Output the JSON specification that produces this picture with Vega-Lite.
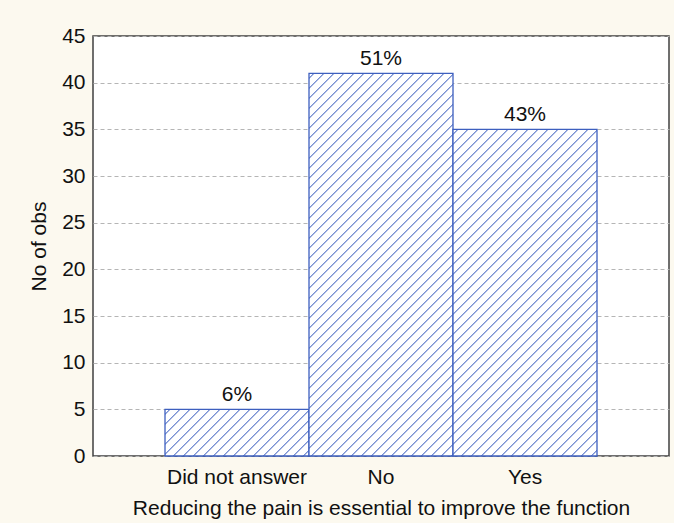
{
"$schema": "https://vega.github.io/schema/vega-lite/v6.json",
"width": 576, "height": 420,
"autosize": {"type": "none"},
"padding": {"left": 93, "top": 36, "right": 5, "bottom": 67},
"background": "#fcf9ef",
"view": {"fill": "#ffffff", "stroke": "#404040", "strokeWidth": 1.5},
"config": {"font": "Liberation Sans", "axis": {"labelFont": "Liberation Sans", "titleFont": "Liberation Sans", "labelFontSize": 21, "titleFontSize": 21, "labelColor": "#111111", "titleColor": "#111111", "titleFontWeight": "normal"}},
"data": {"values": [
{"answer": "Did not answer", "count": 5, "pct": "6%"},
{"answer": "No", "count": 41, "pct": "51%"},
{"answer": "Yes", "count": 35, "pct": "43%"}
]},
"encoding": {
"x": {"field": "answer", "type": "nominal", "scale": {"domain": ["Did not answer", "No", "Yes"], "paddingInner": 0, "paddingOuter": 0.5}, "axis": {"title": "Reducing the pain is essential to improve the function", "labelAngle": 0, "ticks": false, "domain": false, "grid": false, "labelPadding": 10, "titlePadding": 10}},
"y": {"field": "count", "type": "quantitative", "scale": {"domain": [0, 45], "nice": false}, "axis": {"title": "No of obs", "values": [0,5,10,15,20,25,30,35,40,45], "grid": true, "gridDash": [4,3], "gridColor": "#b5b5b5", "gridWidth": 1, "domain": false, "ticks": false, "labelPadding": 8, "titlePadding": 12}}
},
"layer": [
{"transform": [{"filter": "datum.answer === 'Did not answer'"}],
 "mark": {"type": "bar", "stroke": "#3d5fbf", "strokeWidth": 1.3, "fill": {"gradient": "linear", "x1": 0, "y1": 0, "x2": 6.28443, "y2": 2.03662, "stops": [
{"offset":0.0038,"color":"#ffffff"},{"offset":0.005,"color":"#4767c2"},{"offset":0.0062,"color":"#ffffff"},
{"offset":0.0138,"color":"#ffffff"},{"offset":0.015,"color":"#4767c2"},{"offset":0.0162,"color":"#ffffff"},
{"offset":0.0238,"color":"#ffffff"},{"offset":0.025,"color":"#4767c2"},{"offset":0.0262,"color":"#ffffff"},
{"offset":0.0338,"color":"#ffffff"},{"offset":0.035,"color":"#4767c2"},{"offset":0.0362,"color":"#ffffff"},
{"offset":0.0438,"color":"#ffffff"},{"offset":0.045,"color":"#4767c2"},{"offset":0.0462,"color":"#ffffff"},
{"offset":0.0538,"color":"#ffffff"},{"offset":0.055,"color":"#4767c2"},{"offset":0.0562,"color":"#ffffff"},
{"offset":0.0638,"color":"#ffffff"},{"offset":0.065,"color":"#4767c2"},{"offset":0.0662,"color":"#ffffff"},
{"offset":0.0738,"color":"#ffffff"},{"offset":0.075,"color":"#4767c2"},{"offset":0.0762,"color":"#ffffff"},
{"offset":0.0838,"color":"#ffffff"},{"offset":0.085,"color":"#4767c2"},{"offset":0.0862,"color":"#ffffff"},
{"offset":0.0938,"color":"#ffffff"},{"offset":0.095,"color":"#4767c2"},{"offset":0.0962,"color":"#ffffff"},
{"offset":0.1038,"color":"#ffffff"},{"offset":0.105,"color":"#4767c2"},{"offset":0.1062,"color":"#ffffff"},
{"offset":0.1138,"color":"#ffffff"},{"offset":0.115,"color":"#4767c2"},{"offset":0.1162,"color":"#ffffff"},
{"offset":0.1238,"color":"#ffffff"},{"offset":0.125,"color":"#4767c2"},{"offset":0.1262,"color":"#ffffff"},
{"offset":0.1338,"color":"#ffffff"},{"offset":0.135,"color":"#4767c2"},{"offset":0.1362,"color":"#ffffff"},
{"offset":0.1438,"color":"#ffffff"},{"offset":0.145,"color":"#4767c2"},{"offset":0.1462,"color":"#ffffff"},
{"offset":0.1538,"color":"#ffffff"},{"offset":0.155,"color":"#4767c2"},{"offset":0.1562,"color":"#ffffff"},
{"offset":0.1638,"color":"#ffffff"},{"offset":0.165,"color":"#4767c2"},{"offset":0.1662,"color":"#ffffff"},
{"offset":0.1738,"color":"#ffffff"},{"offset":0.175,"color":"#4767c2"},{"offset":0.1762,"color":"#ffffff"},
{"offset":0.1838,"color":"#ffffff"},{"offset":0.185,"color":"#4767c2"},{"offset":0.1862,"color":"#ffffff"},
{"offset":0.1938,"color":"#ffffff"},{"offset":0.195,"color":"#4767c2"},{"offset":0.1962,"color":"#ffffff"}
]}}},
{"transform": [{"filter": "datum.answer === 'No'"}],
 "mark": {"type": "bar", "stroke": "#3d5fbf", "strokeWidth": 1.3, "fill": {"gradient": "linear", "x1": 0, "y1": 0, "x2": 0.861399, "y2": 2.28909, "stops": [
{"offset":0.0038,"color":"#ffffff"},{"offset":0.005,"color":"#4767c2"},{"offset":0.0062,"color":"#ffffff"},
{"offset":0.0138,"color":"#ffffff"},{"offset":0.015,"color":"#4767c2"},{"offset":0.0162,"color":"#ffffff"},
{"offset":0.0238,"color":"#ffffff"},{"offset":0.025,"color":"#4767c2"},{"offset":0.0262,"color":"#ffffff"},
{"offset":0.0338,"color":"#ffffff"},{"offset":0.035,"color":"#4767c2"},{"offset":0.0362,"color":"#ffffff"},
{"offset":0.0438,"color":"#ffffff"},{"offset":0.045,"color":"#4767c2"},{"offset":0.0462,"color":"#ffffff"},
{"offset":0.0538,"color":"#ffffff"},{"offset":0.055,"color":"#4767c2"},{"offset":0.0562,"color":"#ffffff"},
{"offset":0.0638,"color":"#ffffff"},{"offset":0.065,"color":"#4767c2"},{"offset":0.0662,"color":"#ffffff"},
{"offset":0.0738,"color":"#ffffff"},{"offset":0.075,"color":"#4767c2"},{"offset":0.0762,"color":"#ffffff"},
{"offset":0.0838,"color":"#ffffff"},{"offset":0.085,"color":"#4767c2"},{"offset":0.0862,"color":"#ffffff"},
{"offset":0.0938,"color":"#ffffff"},{"offset":0.095,"color":"#4767c2"},{"offset":0.0962,"color":"#ffffff"},
{"offset":0.1038,"color":"#ffffff"},{"offset":0.105,"color":"#4767c2"},{"offset":0.1062,"color":"#ffffff"},
{"offset":0.1138,"color":"#ffffff"},{"offset":0.115,"color":"#4767c2"},{"offset":0.1162,"color":"#ffffff"},
{"offset":0.1238,"color":"#ffffff"},{"offset":0.125,"color":"#4767c2"},{"offset":0.1262,"color":"#ffffff"},
{"offset":0.1338,"color":"#ffffff"},{"offset":0.135,"color":"#4767c2"},{"offset":0.1362,"color":"#ffffff"},
{"offset":0.1438,"color":"#ffffff"},{"offset":0.145,"color":"#4767c2"},{"offset":0.1462,"color":"#ffffff"},
{"offset":0.1538,"color":"#ffffff"},{"offset":0.155,"color":"#4767c2"},{"offset":0.1562,"color":"#ffffff"},
{"offset":0.1638,"color":"#ffffff"},{"offset":0.165,"color":"#4767c2"},{"offset":0.1662,"color":"#ffffff"},
{"offset":0.1738,"color":"#ffffff"},{"offset":0.175,"color":"#4767c2"},{"offset":0.1762,"color":"#ffffff"},
{"offset":0.1838,"color":"#ffffff"},{"offset":0.185,"color":"#4767c2"},{"offset":0.1862,"color":"#ffffff"},
{"offset":0.1938,"color":"#ffffff"},{"offset":0.195,"color":"#4767c2"},{"offset":0.1962,"color":"#ffffff"},
{"offset":0.2038,"color":"#ffffff"},{"offset":0.205,"color":"#4767c2"},{"offset":0.2062,"color":"#ffffff"},
{"offset":0.2138,"color":"#ffffff"},{"offset":0.215,"color":"#4767c2"},{"offset":0.2162,"color":"#ffffff"},
{"offset":0.2238,"color":"#ffffff"},{"offset":0.225,"color":"#4767c2"},{"offset":0.2262,"color":"#ffffff"},
{"offset":0.2338,"color":"#ffffff"},{"offset":0.235,"color":"#4767c2"},{"offset":0.2362,"color":"#ffffff"},
{"offset":0.2438,"color":"#ffffff"},{"offset":0.245,"color":"#4767c2"},{"offset":0.2462,"color":"#ffffff"},
{"offset":0.2538,"color":"#ffffff"},{"offset":0.255,"color":"#4767c2"},{"offset":0.2562,"color":"#ffffff"},
{"offset":0.2638,"color":"#ffffff"},{"offset":0.265,"color":"#4767c2"},{"offset":0.2662,"color":"#ffffff"},
{"offset":0.2738,"color":"#ffffff"},{"offset":0.275,"color":"#4767c2"},{"offset":0.2762,"color":"#ffffff"},
{"offset":0.2838,"color":"#ffffff"},{"offset":0.285,"color":"#4767c2"},{"offset":0.2862,"color":"#ffffff"},
{"offset":0.2938,"color":"#ffffff"},{"offset":0.295,"color":"#4767c2"},{"offset":0.2962,"color":"#ffffff"},
{"offset":0.3038,"color":"#ffffff"},{"offset":0.305,"color":"#4767c2"},{"offset":0.3062,"color":"#ffffff"},
{"offset":0.3138,"color":"#ffffff"},{"offset":0.315,"color":"#4767c2"},{"offset":0.3162,"color":"#ffffff"},
{"offset":0.3238,"color":"#ffffff"},{"offset":0.325,"color":"#4767c2"},{"offset":0.3262,"color":"#ffffff"},
{"offset":0.3338,"color":"#ffffff"},{"offset":0.335,"color":"#4767c2"},{"offset":0.3362,"color":"#ffffff"},
{"offset":0.3438,"color":"#ffffff"},{"offset":0.345,"color":"#4767c2"},{"offset":0.3462,"color":"#ffffff"},
{"offset":0.3538,"color":"#ffffff"},{"offset":0.355,"color":"#4767c2"},{"offset":0.3562,"color":"#ffffff"},
{"offset":0.3638,"color":"#ffffff"},{"offset":0.365,"color":"#4767c2"},{"offset":0.3662,"color":"#ffffff"},
{"offset":0.3738,"color":"#ffffff"},{"offset":0.375,"color":"#4767c2"},{"offset":0.3762,"color":"#ffffff"},
{"offset":0.3838,"color":"#ffffff"},{"offset":0.385,"color":"#4767c2"},{"offset":0.3862,"color":"#ffffff"},
{"offset":0.3938,"color":"#ffffff"},{"offset":0.395,"color":"#4767c2"},{"offset":0.3962,"color":"#ffffff"},
{"offset":0.4038,"color":"#ffffff"},{"offset":0.405,"color":"#4767c2"},{"offset":0.4062,"color":"#ffffff"},
{"offset":0.4138,"color":"#ffffff"},{"offset":0.415,"color":"#4767c2"},{"offset":0.4162,"color":"#ffffff"},
{"offset":0.4238,"color":"#ffffff"},{"offset":0.425,"color":"#4767c2"},{"offset":0.4262,"color":"#ffffff"},
{"offset":0.4338,"color":"#ffffff"},{"offset":0.435,"color":"#4767c2"},{"offset":0.4362,"color":"#ffffff"},
{"offset":0.4438,"color":"#ffffff"},{"offset":0.445,"color":"#4767c2"},{"offset":0.4462,"color":"#ffffff"},
{"offset":0.4538,"color":"#ffffff"},{"offset":0.455,"color":"#4767c2"},{"offset":0.4562,"color":"#ffffff"},
{"offset":0.4638,"color":"#ffffff"},{"offset":0.465,"color":"#4767c2"},{"offset":0.4662,"color":"#ffffff"},
{"offset":0.4738,"color":"#ffffff"},{"offset":0.475,"color":"#4767c2"},{"offset":0.4762,"color":"#ffffff"},
{"offset":0.4838,"color":"#ffffff"},{"offset":0.485,"color":"#4767c2"},{"offset":0.4862,"color":"#ffffff"},
{"offset":0.4938,"color":"#ffffff"},{"offset":0.495,"color":"#4767c2"},{"offset":0.4962,"color":"#ffffff"},
{"offset":0.5038,"color":"#ffffff"},{"offset":0.505,"color":"#4767c2"},{"offset":0.5062,"color":"#ffffff"},
{"offset":0.5138,"color":"#ffffff"},{"offset":0.515,"color":"#4767c2"},{"offset":0.5162,"color":"#ffffff"},
{"offset":0.5238,"color":"#ffffff"},{"offset":0.525,"color":"#4767c2"},{"offset":0.5262,"color":"#ffffff"}
]}}},
{"transform": [{"filter": "datum.answer === 'Yes'"}],
 "mark": {"type": "bar", "stroke": "#3d5fbf", "strokeWidth": 1.3, "fill": {"gradient": "linear", "x1": 0, "y1": 0, "x2": 1.12988, "y2": 2.56316, "stops": [
{"offset":0.0038,"color":"#ffffff"},{"offset":0.005,"color":"#4767c2"},{"offset":0.0062,"color":"#ffffff"},
{"offset":0.0138,"color":"#ffffff"},{"offset":0.015,"color":"#4767c2"},{"offset":0.0162,"color":"#ffffff"},
{"offset":0.0238,"color":"#ffffff"},{"offset":0.025,"color":"#4767c2"},{"offset":0.0262,"color":"#ffffff"},
{"offset":0.0338,"color":"#ffffff"},{"offset":0.035,"color":"#4767c2"},{"offset":0.0362,"color":"#ffffff"},
{"offset":0.0438,"color":"#ffffff"},{"offset":0.045,"color":"#4767c2"},{"offset":0.0462,"color":"#ffffff"},
{"offset":0.0538,"color":"#ffffff"},{"offset":0.055,"color":"#4767c2"},{"offset":0.0562,"color":"#ffffff"},
{"offset":0.0638,"color":"#ffffff"},{"offset":0.065,"color":"#4767c2"},{"offset":0.0662,"color":"#ffffff"},
{"offset":0.0738,"color":"#ffffff"},{"offset":0.075,"color":"#4767c2"},{"offset":0.0762,"color":"#ffffff"},
{"offset":0.0838,"color":"#ffffff"},{"offset":0.085,"color":"#4767c2"},{"offset":0.0862,"color":"#ffffff"},
{"offset":0.0938,"color":"#ffffff"},{"offset":0.095,"color":"#4767c2"},{"offset":0.0962,"color":"#ffffff"},
{"offset":0.1038,"color":"#ffffff"},{"offset":0.105,"color":"#4767c2"},{"offset":0.1062,"color":"#ffffff"},
{"offset":0.1138,"color":"#ffffff"},{"offset":0.115,"color":"#4767c2"},{"offset":0.1162,"color":"#ffffff"},
{"offset":0.1238,"color":"#ffffff"},{"offset":0.125,"color":"#4767c2"},{"offset":0.1262,"color":"#ffffff"},
{"offset":0.1338,"color":"#ffffff"},{"offset":0.135,"color":"#4767c2"},{"offset":0.1362,"color":"#ffffff"},
{"offset":0.1438,"color":"#ffffff"},{"offset":0.145,"color":"#4767c2"},{"offset":0.1462,"color":"#ffffff"},
{"offset":0.1538,"color":"#ffffff"},{"offset":0.155,"color":"#4767c2"},{"offset":0.1562,"color":"#ffffff"},
{"offset":0.1638,"color":"#ffffff"},{"offset":0.165,"color":"#4767c2"},{"offset":0.1662,"color":"#ffffff"},
{"offset":0.1738,"color":"#ffffff"},{"offset":0.175,"color":"#4767c2"},{"offset":0.1762,"color":"#ffffff"},
{"offset":0.1838,"color":"#ffffff"},{"offset":0.185,"color":"#4767c2"},{"offset":0.1862,"color":"#ffffff"},
{"offset":0.1938,"color":"#ffffff"},{"offset":0.195,"color":"#4767c2"},{"offset":0.1962,"color":"#ffffff"},
{"offset":0.2038,"color":"#ffffff"},{"offset":0.205,"color":"#4767c2"},{"offset":0.2062,"color":"#ffffff"},
{"offset":0.2138,"color":"#ffffff"},{"offset":0.215,"color":"#4767c2"},{"offset":0.2162,"color":"#ffffff"},
{"offset":0.2238,"color":"#ffffff"},{"offset":0.225,"color":"#4767c2"},{"offset":0.2262,"color":"#ffffff"},
{"offset":0.2338,"color":"#ffffff"},{"offset":0.235,"color":"#4767c2"},{"offset":0.2362,"color":"#ffffff"},
{"offset":0.2438,"color":"#ffffff"},{"offset":0.245,"color":"#4767c2"},{"offset":0.2462,"color":"#ffffff"},
{"offset":0.2538,"color":"#ffffff"},{"offset":0.255,"color":"#4767c2"},{"offset":0.2562,"color":"#ffffff"},
{"offset":0.2638,"color":"#ffffff"},{"offset":0.265,"color":"#4767c2"},{"offset":0.2662,"color":"#ffffff"},
{"offset":0.2738,"color":"#ffffff"},{"offset":0.275,"color":"#4767c2"},{"offset":0.2762,"color":"#ffffff"},
{"offset":0.2838,"color":"#ffffff"},{"offset":0.285,"color":"#4767c2"},{"offset":0.2862,"color":"#ffffff"},
{"offset":0.2938,"color":"#ffffff"},{"offset":0.295,"color":"#4767c2"},{"offset":0.2962,"color":"#ffffff"},
{"offset":0.3038,"color":"#ffffff"},{"offset":0.305,"color":"#4767c2"},{"offset":0.3062,"color":"#ffffff"},
{"offset":0.3138,"color":"#ffffff"},{"offset":0.315,"color":"#4767c2"},{"offset":0.3162,"color":"#ffffff"},
{"offset":0.3238,"color":"#ffffff"},{"offset":0.325,"color":"#4767c2"},{"offset":0.3262,"color":"#ffffff"},
{"offset":0.3338,"color":"#ffffff"},{"offset":0.335,"color":"#4767c2"},{"offset":0.3362,"color":"#ffffff"},
{"offset":0.3438,"color":"#ffffff"},{"offset":0.345,"color":"#4767c2"},{"offset":0.3462,"color":"#ffffff"},
{"offset":0.3538,"color":"#ffffff"},{"offset":0.355,"color":"#4767c2"},{"offset":0.3562,"color":"#ffffff"},
{"offset":0.3638,"color":"#ffffff"},{"offset":0.365,"color":"#4767c2"},{"offset":0.3662,"color":"#ffffff"},
{"offset":0.3738,"color":"#ffffff"},{"offset":0.375,"color":"#4767c2"},{"offset":0.3762,"color":"#ffffff"},
{"offset":0.3838,"color":"#ffffff"},{"offset":0.385,"color":"#4767c2"},{"offset":0.3862,"color":"#ffffff"},
{"offset":0.3938,"color":"#ffffff"},{"offset":0.395,"color":"#4767c2"},{"offset":0.3962,"color":"#ffffff"},
{"offset":0.4038,"color":"#ffffff"},{"offset":0.405,"color":"#4767c2"},{"offset":0.4062,"color":"#ffffff"},
{"offset":0.4138,"color":"#ffffff"},{"offset":0.415,"color":"#4767c2"},{"offset":0.4162,"color":"#ffffff"},
{"offset":0.4238,"color":"#ffffff"},{"offset":0.425,"color":"#4767c2"},{"offset":0.4262,"color":"#ffffff"},
{"offset":0.4338,"color":"#ffffff"},{"offset":0.435,"color":"#4767c2"},{"offset":0.4362,"color":"#ffffff"},
{"offset":0.4438,"color":"#ffffff"},{"offset":0.445,"color":"#4767c2"},{"offset":0.4462,"color":"#ffffff"},
{"offset":0.4538,"color":"#ffffff"},{"offset":0.455,"color":"#4767c2"},{"offset":0.4562,"color":"#ffffff"},
{"offset":0.4638,"color":"#ffffff"},{"offset":0.465,"color":"#4767c2"},{"offset":0.4662,"color":"#ffffff"}
]}}},
{"mark": {"type": "text", "fontSize": 21, "font": "Liberation Sans", "color": "#111111", "baseline": "alphabetic", "dy": -8},
 "encoding": {"text": {"field": "pct"}}}
]
}
